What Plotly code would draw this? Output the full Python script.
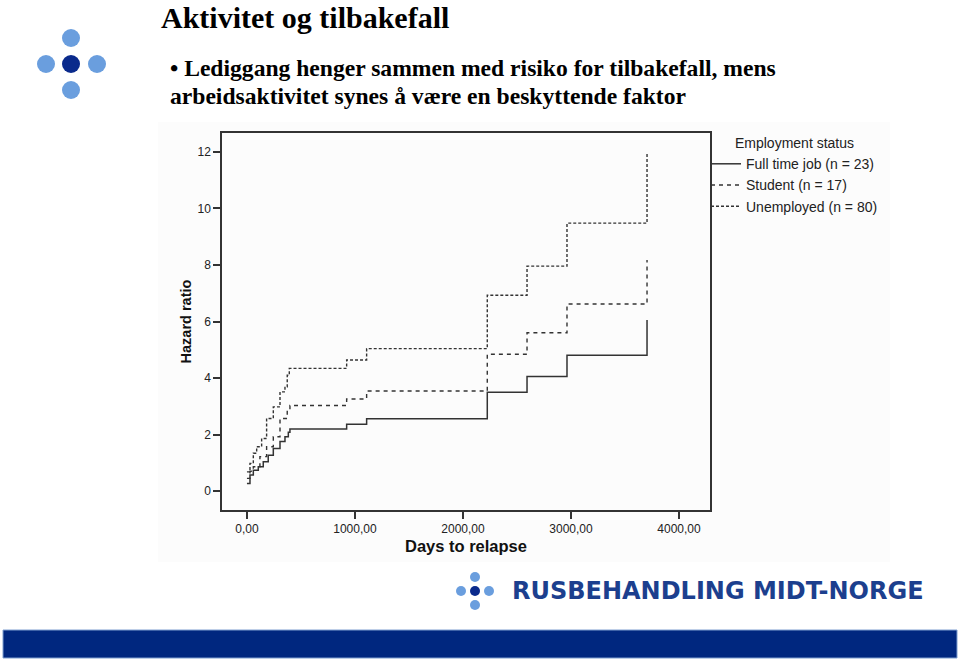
import plotly.graph_objects as go

# ---------------- data ----------------
series_names = ["Full time job (n = 23)", "Student (n = 17)", "Unemployed (n = 80)"]

days_full = [0, 28, 59, 105, 151, 197, 244, 306, 352, 383, 398, 923, 1108, 2225, 2593, 2963, 3704]
hr_full = [0.27, 0.57, 0.74, 0.86, 1.04, 1.27, 1.51, 1.75, 1.92, 2.08, 2.20, 2.36, 2.56, 3.50, 4.05, 4.81, 6.05]

days_student = [0, 28, 59, 120, 182, 244, 306, 373, 398, 923, 1108, 2225, 2593, 2963, 3704]
hr_student = [0.45, 0.70, 0.86, 1.22, 1.57, 1.92, 2.57, 2.86, 3.03, 3.26, 3.54, 4.84, 5.60, 6.62, 8.18]

days_unemp = [0, 28, 59, 90, 136, 182, 244, 306, 352, 373, 392, 923, 1108, 2225, 2593, 2963, 3704]
hr_unemp = [0.68, 0.98, 1.34, 1.57, 1.86, 2.57, 2.98, 3.51, 3.69, 4.10, 4.34, 4.64, 5.04, 6.93, 7.96, 9.48, 11.96]

x_tickvals = [0, 1000, 2000, 3000, 4000]
x_ticktext = ["0,00", "1000,00", "2000,00", "3000,00", "4000,00"]
y_tickvals = [0, 2, 4, 6, 8, 10, 12]

title_text = "Aktivitet og tilbakefall"
bullet_line1 = "• Lediggang henger sammen med risiko for tilbakefall, mens"
bullet_line2 = "arbeidsaktivitet synes å være en beskyttende faktor"
logo_text = "RUSBEHANDLING MIDT-NORGE"

# ---------------- figure ----------------
W, H = 960, 660


def px_x(x):
    return x / W


def px_y(y):
    return 1 - y / H


fig = go.Figure()

styles = [
    dict(color="#333333", width=1.5, dash="solid"),
    dict(color="#333333", width=1.4, dash="4px,4px"),
    dict(color="#333333", width=1.4, dash="3px,2px"),
]
for name, xs, ys, st in zip(series_names,
                            [days_full, days_student, days_unemp],
                            [hr_full, hr_student, hr_unemp], styles):
    fig.add_trace(go.Scatter(x=xs, y=ys, mode="lines", name=name,
                             line=dict(shape="hv", **st)))

shapes = []
# chart image background
shapes.append(dict(type="rect", xref="paper", yref="paper",
                   x0=px_x(158), x1=px_x(890), y0=px_y(562), y1=px_y(122),
                   fillcolor="#fcfcfc", line=dict(width=0), layer="below"))
# bottom band
shapes.append(dict(type="rect", xref="paper", yref="paper",
                   x0=px_x(3), x1=px_x(957), y0=px_y(658), y1=px_y(630),
                   fillcolor="#00277f", line=dict(color="#7f9fd0", width=1)))


def circ(cx, cy, r, color):
    return dict(type="circle", xref="paper", yref="paper",
                x0=px_x(cx - r), x1=px_x(cx + r), y0=px_y(cy + r), y1=px_y(cy - r),
                fillcolor=color, line=dict(width=0))


light = "#6a9ede"
dark = "#0a2a8c"
for cx, cy, c in [(71, 38, light), (46, 64, light), (71, 64, dark), (97, 64, light), (71, 90, light)]:
    shapes.append(circ(cx, cy, 9, c))
for cx, cy, c in [(475, 577, light), (461, 591, light), (475, 591, dark), (489, 591, light), (475, 605, light)]:
    shapes.append(circ(cx, cy, 5, c))

annotations = [
    dict(text="<b>%s</b>" % title_text, xref="paper", yref="paper",
         x=px_x(160), y=px_y(0), xanchor="left", yanchor="top", showarrow=False,
         borderpad=0,
         font=dict(family="Liberation Serif", size=30, color="#000000")),
    dict(text="<b>%s</b>" % bullet_line1, xref="paper", yref="paper",
         x=px_x(168), y=px_y(68), xanchor="left", yanchor="middle", showarrow=False,
         font=dict(family="Liberation Serif", size=23.6, color="#000000")),
    dict(text="<b>%s</b>" % bullet_line2, xref="paper", yref="paper",
         x=px_x(168), y=px_y(96), xanchor="left", yanchor="middle", showarrow=False,
         font=dict(family="Liberation Serif", size=23.6, color="#000000")),
    dict(text="<b>%s</b>" % logo_text, xref="paper", yref="paper",
         x=px_x(510), y=px_y(591), xanchor="left", yanchor="middle", showarrow=False,
         font=dict(family="DejaVu Sans", size=24, color="#1c3f8e")),
]

axis_font = dict(family="Liberation Sans, Arial", size=12, color="#222222")

fig.update_layout(
    width=W, height=H, autosize=False,
    margin=dict(l=0, r=0, t=0, b=0, pad=0),
    paper_bgcolor="white", plot_bgcolor="#fdfdfd",
    shapes=shapes, annotations=annotations,
    showlegend=True,
    legend=dict(x=px_x(706), y=px_y(130), xanchor="left", yanchor="top",
                bgcolor="rgba(0,0,0,0)",
                title=dict(text="Employment status", side="top center",
                           font=dict(family="Liberation Sans, Arial", size=14, color="#222222")),
                font=dict(family="Liberation Sans, Arial", size=14, color="#222222"),
                itemwidth=30, tracegroupgap=0),
    xaxis=dict(domain=[px_x(222), px_x(710)], range=[-231, 4287],
               tickvals=x_tickvals, ticktext=x_ticktext, ticks="outside", ticklen=7,
               tickwidth=1.5, tickcolor="#333333",
               showline=True, linecolor="#333333", linewidth=1.5, mirror=True,
               showgrid=False, zeroline=False, tickfont=axis_font,
               title=dict(text="<b>Days to relapse</b>", standoff=5,
                          font=dict(family="Liberation Sans, Arial", size=16.5, color="#111111"))),
    yaxis=dict(domain=[px_y(510), px_y(133)], range=[-0.67, 12.67],
               tickvals=y_tickvals, ticks="outside", ticklen=7,
               tickwidth=1.5, tickcolor="#333333",
               showline=True, linecolor="#333333", linewidth=1.5, mirror=True,
               showgrid=False, zeroline=False, tickfont=axis_font,
               title=dict(text="<b>Hazard ratio</b>", standoff=2,
                          font=dict(family="Liberation Sans, Arial", size=14.5, color="#111111"))),
)

fig.write_html("out.html")
